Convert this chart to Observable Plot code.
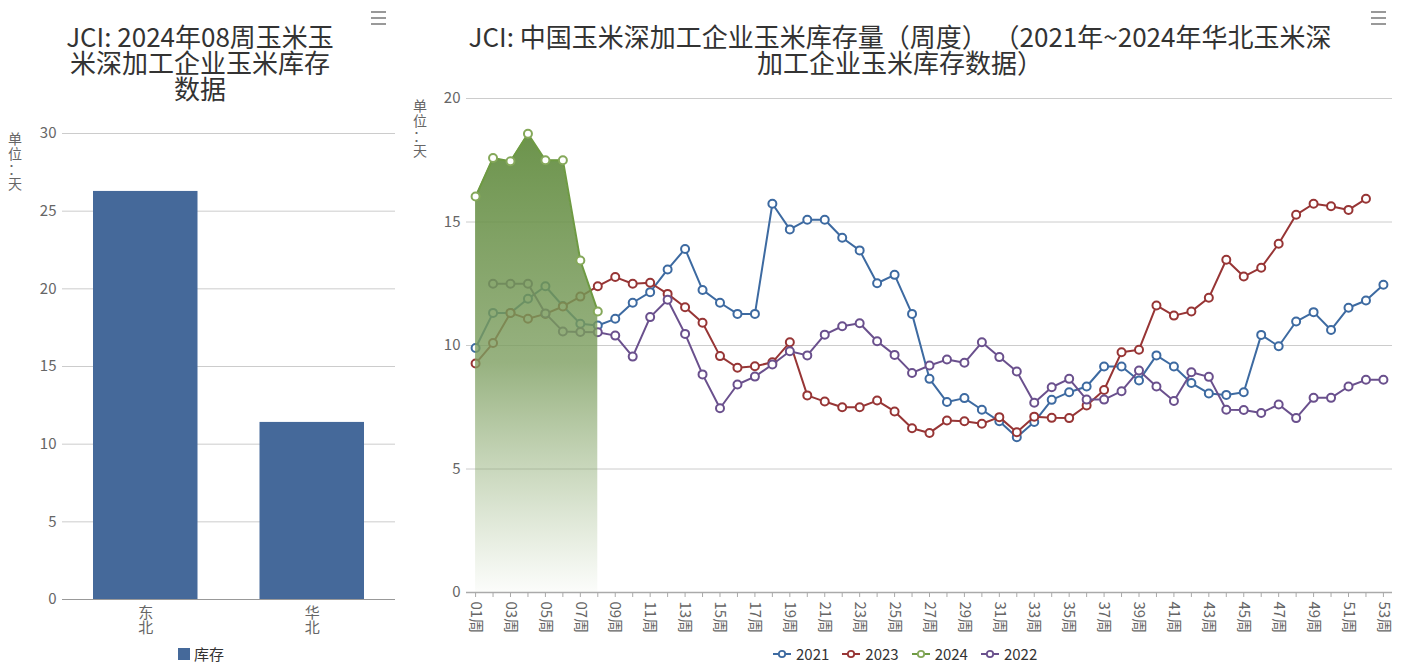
<!DOCTYPE html>
<html>
<head>
<meta charset="utf-8">
<script src="https://cdn.jsdelivr.net/npm/d3@7"></script>
<script src="https://cdn.jsdelivr.net/npm/@observablehq/plot@0.6"></script>
<style>
  html, body { margin: 0; padding: 0; background: #fff; }
  body { width: 1405px; height: 663px; position: relative; overflow: hidden; font-family: "Noto Sans CJK SC", "Noto Sans", sans-serif; }
  .title { position: absolute; text-align: center; color: #333; font-size: 26px; line-height: 26px; white-space: nowrap; }
  .abs { position: absolute; }
  .unit { position: absolute; color: #666; font-size: 14px; line-height: 15px; text-align: center; width: 16px; }
  .menu { position: absolute; width: 15px; }
  .menu div { height: 2px; background: #999; margin-bottom: 4px; }
  .legend { position: absolute; font-size: 15px; line-height: 16px; color: #333; white-space: nowrap; display: flex; align-items: center; }
  .legend span.item { display: inline-flex; align-items: center; margin-right: 12px; }
  .legend svg { margin-right: 4px; }
</style>
</head>
<body>
<div class="title" style="left:50px; width:300px; top:23px;">JCI: 2024年08周玉米玉<br>米深加工企业玉米库存<br>数据</div>
<div class="title" style="left:400px; width:1000px; top:23px;">JCI: 中国玉米深加工企业玉米库存量（周度） （2021年~2024年华北玉米深<br>加工企业玉米库存数据）</div>
<div class="menu" style="left:371px; top:11px;"><div></div><div></div><div></div></div>
<div class="menu" style="left:1371px; top:11px;"><div></div><div></div><div></div></div>
<div class="unit" style="left:7px; top:131px;">单<br>位<br>：<br>天</div>
<div class="unit" style="left:412px; top:98px;">单<br>位<br>：<br>天</div>
<div id="left" class="abs" style="left:0; top:100px;"></div>
<div id="right" class="abs" style="left:410px; top:85px;"></div>
<div class="legend" style="left:178px; top:646px;"><span style="display:inline-block;width:12px;height:12px;background:#45699a;margin-right:4px;"></span>库存</div>
<div id="rlegend" class="legend" style="left:772px; top:646px;"></div>
<script>
// ---------- Left chart data ----------
const regions = ["东北", "华北"];
const stockDays = [26.27, 11.4];

// ---------- Right chart data ----------
const weekLabels = ["01周","02周","03周","04周","05周","06周","07周","08周","09周","10周",
  "11周","12周","13周","14周","15周","16周","17周","18周","19周","20周",
  "21周","22周","23周","24周","25周","26周","27周","28周","29周","30周",
  "31周","32周","33周","34周","35周","36周","37周","38周","39周","40周",
  "41周","42周","43周","44周","45周","46周","47周","48周","49周","50周",
  "51周","52周","53周"];
const seriesNames = ["2021", "2023", "2024", "2022"];
const s2021 = [9.9, 11.32, 11.32, 11.89, 12.4, 11.6, 10.88, 10.81, 11.08, 11.73,
  12.16, 13.08, 13.91, 12.25, 11.73, 11.28, 11.28, 15.74, 14.7, 15.09,
  15.09, 14.36, 13.85, 12.52, 12.86, 11.28, 8.65, 7.71, 7.87, 7.4,
  6.93, 6.29, 6.9, 7.8, 8.11, 8.34, 9.15, 9.15, 8.58, 9.6,
  9.15, 8.48, 8.06, 8.0, 8.11, 10.43, 9.97, 10.97, 11.35, 10.63,
  11.53, 11.82, 12.46];
const s2023 = [9.27, 10.1, 11.32, 11.08, 11.28, 11.58, 11.98, 12.4, 12.77, 12.5,
  12.54, 12.09, 11.55, 10.92, 9.57, 9.1, 9.16, 9.32, 10.13, 7.98,
  7.73, 7.5, 7.5, 7.77, 7.33, 6.65, 6.46, 6.96, 6.93, 6.83,
  7.1, 6.49, 7.12, 7.07, 7.06, 7.57, 8.2, 9.73, 9.83, 11.62,
  11.21, 11.38, 11.93, 13.47, 12.79, 13.15, 14.12, 15.29, 15.74, 15.64,
  15.49, 15.94, null];
const s2024 = [16.03, 17.59, 17.46, 18.57, 17.5, 17.5, 13.44, 11.38];
const s2022 = [null, 12.5, 12.5, 12.5, 11.3, 10.57, 10.55, 10.54, 10.4, 9.55,
  11.15, 11.85, 10.47, 8.83, 7.46, 8.42, 8.74, 9.23, 9.77, 9.6,
  10.44, 10.78, 10.9, 10.17, 9.62, 8.89, 9.19, 9.43, 9.3, 10.13,
  9.53, 8.95, 7.68, 8.31, 8.65, 7.81, 7.81, 8.15, 8.99, 8.34,
  7.75, 8.92, 8.73, 7.4, 7.39, 7.27, 7.61, 7.06, 7.88, 7.88,
  8.34, 8.61, 8.61];
const yTicks = [0, 5, 10, 15, 20];
const leftYTicks = [0, 5, 10, 15, 20, 25, 30];

const colors = {"2021": "#3d6aa1", "2023": "#973535", "2024": "#6e9a43", "2022": "#6a508d"};
const markerColors = {"2021": "#3d6aa1", "2023": "#973535", "2024": "#85a85a", "2022": "#6a508d"};

const font = '"Noto Sans CJK SC", "Noto Sans", sans-serif';

// ---------- Left chart ----------
const barData = regions.map((r, i) => ({region: r, value: stockDays[i]}));
const left = Plot.plot({
  width: 410, height: 560,
  marginTop: 33, marginBottom: 61, marginLeft: 62, marginRight: 15,
  style: {fontFamily: font, fontSize: "15px", color: "#666", background: "transparent"},
  x: {domain: regions, padding: 0, round: false, label: null},
  y: {domain: [0, 30], label: null},
  marks: [
    Plot.gridY(leftYTicks.filter(d => d > 0), {stroke: "#ccc", strokeOpacity: 1}),
    Plot.barY(barData, {x: "region", y: "value", fill: "#45699a", insetLeft: 31, insetRight: 31}),
    Plot.ruleY([0], {stroke: "#999"}),
    Plot.axisY({ticks: leftYTicks, tickSize: 0, tickPadding: 6, fill: "#666", fontSize: 15}),
    Plot.axisX({tickSize: 0, tickPadding: 7, fill: "#666", fontSize: 15, lineHeight: 1.05,
      tickFormat: d => d.split("").join("\n")})
  ]
});
document.getElementById("left").appendChild(left);

// ---------- Right chart ----------
function rows(name, arr) {
  return arr.map((v, i) => ({week: weekLabels[i], value: v, year: name})).filter(d => d.value != null);
}
const d2021 = rows("2021", s2021);
const d2023 = rows("2023", s2023);
const d2024 = rows("2024", s2024);
const d2022 = rows("2022", s2022);

function lineAndDots(data, name) {
  return [
    Plot.line(data, {x: "week", y: "value", stroke: colors[name], strokeWidth: 2}),
    Plot.dot(data, {x: "week", y: "value", r: 4, fill: "white", stroke: markerColors[name], strokeWidth: 2})
  ];
}

const oddLabels = weekLabels.filter((d, i) => i % 2 === 0);
const right = Plot.plot({
  width: 995, height: 575,
  marginTop: 13, marginBottom: 68, marginLeft: 56, marginRight: 13,
  style: {fontFamily: font, fontSize: "15px", color: "#666", background: "transparent"},
  x: {type: "point", domain: weekLabels, padding: 0.52, round: false, label: null},
  y: {domain: [0, 20], label: null},
  marks: [
    Plot.gridY(yTicks.filter(d => d > 0), {stroke: "#ccc", strokeOpacity: 1}),
    Plot.ruleY([0], {stroke: "#aaa", strokeWidth: 1.5}),
    Plot.axisY({ticks: yTicks, tickSize: 0, tickPadding: 6, fill: "#666", fontSize: 15}),
    Plot.axisX({ticks: weekLabels, tickSize: 5, stroke: "#aaa", tickFormat: () => ""}),
    Plot.axisX({ticks: oddLabels, tickSize: 0, tickPadding: 9, tickRotate: 90, fill: "#666", fontSize: 15}),
    ...lineAndDots(d2021, "2021"),
    ...lineAndDots(d2023, "2023"),
    ...lineAndDots(d2022, "2022"),
    Plot.areaY(d2024, {x: "week", y: "value", fill: "url(#grad2024)"}),
    ...lineAndDots(d2024, "2024")
  ]
});
// gradient definition for the 2024 area
const ns = "http://www.w3.org/2000/svg";
const defs = document.createElementNS(ns, "defs");
const grad = document.createElementNS(ns, "linearGradient");
grad.setAttribute("id", "grad2024");
grad.setAttribute("x1", "0"); grad.setAttribute("y1", "0");
grad.setAttribute("x2", "0"); grad.setAttribute("y2", "1");
[["0", "#5f8a3c", 0.92], ["0.5", "#7d9e60", 0.8], ["1", "#8fae72", 0.03]].forEach(([o, c, a]) => {
  const s = document.createElementNS(ns, "stop");
  s.setAttribute("offset", o); s.setAttribute("stop-color", c); s.setAttribute("stop-opacity", a);
  grad.appendChild(s);
});
defs.appendChild(grad);
right.insertBefore(defs, right.firstChild);
document.getElementById("right").appendChild(right);

// ---------- Right legend ----------
const lg = document.getElementById("rlegend");
seriesNames.forEach(name => {
  const item = document.createElement("span");
  item.className = "item";
  item.innerHTML = `<svg width="20" height="12"><line x1="1" x2="19" y1="6" y2="6" stroke="${colors[name]}" stroke-width="2"/><circle cx="10" cy="6" r="3.2" fill="white" stroke="${markerColors[name]}" stroke-width="1.8"/></svg>${name}`;
  lg.appendChild(item);
});
</script>
</body>
</html>
